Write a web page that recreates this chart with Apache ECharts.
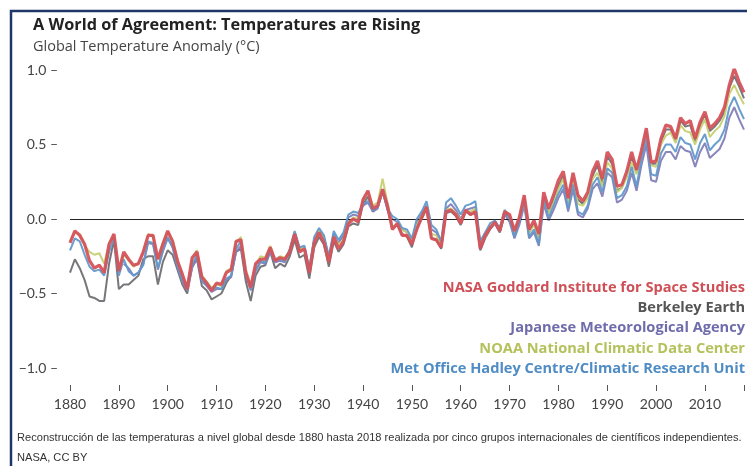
<!DOCTYPE html>
<html style="height: 100%;">
<head>
<meta charset="utf-8">
<title>A World of Agreement: Temperatures are Rising</title>
<script type="text/javascript" src="https://cdn.jsdelivr.net/npm/echarts@6/dist/echarts.min.js"></script>
</head>
<body style="height: 100%; margin: 0; background: #fff;">
<div id="container" style="width: 747px; height: 466px;"></div>
<script type="text/javascript">
var startYear = 1880;
var yTicks = [-1.0, -0.5, 0.0, 0.5, 1.0];

// anomalies, 1880 .. 2018 (one value per year)
var nasa = [
  -0.16,-0.08,-0.11,-0.17,-0.28,-0.33,-0.31,-0.36,-0.17,-0.10,
  -0.35,-0.22,-0.27,-0.31,-0.30,-0.22,-0.11,-0.11,-0.27,-0.17,
  -0.08,-0.15,-0.28,-0.37,-0.47,-0.26,-0.22,-0.39,-0.43,-0.48,
  -0.43,-0.44,-0.36,-0.34,-0.15,-0.14,-0.36,-0.46,-0.30,-0.27,
  -0.27,-0.19,-0.28,-0.26,-0.27,-0.22,-0.10,-0.22,-0.20,-0.36,
  -0.16,-0.09,-0.16,-0.29,-0.12,-0.20,-0.15,-0.03,0.00,-0.02,
  0.13,0.19,0.07,0.09,0.20,0.09,-0.07,-0.03,-0.11,-0.11,
  -0.17,-0.07,0.01,0.08,-0.13,-0.14,-0.19,0.05,0.06,0.03,
  -0.03,0.06,0.03,0.05,-0.20,-0.11,-0.06,-0.02,-0.08,0.05,
  0.03,-0.08,0.01,0.16,-0.07,-0.01,-0.10,0.18,0.07,0.16,
  0.26,0.32,0.14,0.31,0.16,0.12,0.18,0.32,0.39,0.27,
  0.45,0.40,0.22,0.23,0.32,0.45,0.33,0.46,0.61,0.38,
  0.39,0.54,0.63,0.62,0.54,0.68,0.64,0.66,0.54,0.65,
  0.72,0.61,0.64,0.68,0.75,0.90,1.01,0.92,0.85
];
var berkeley = [
  -0.36,-0.27,-0.33,-0.41,-0.52,-0.53,-0.55,-0.55,-0.30,-0.14,
  -0.47,-0.44,-0.44,-0.41,-0.38,-0.27,-0.25,-0.25,-0.44,-0.29,
  -0.21,-0.24,-0.34,-0.44,-0.50,-0.32,-0.27,-0.45,-0.48,-0.54,
  -0.52,-0.50,-0.43,-0.38,-0.22,-0.20,-0.42,-0.55,-0.38,-0.32,
  -0.31,-0.22,-0.33,-0.30,-0.32,-0.25,-0.14,-0.26,-0.24,-0.40,
  -0.19,-0.12,-0.17,-0.32,-0.15,-0.22,-0.17,-0.05,-0.03,-0.04,
  0.10,0.15,0.05,0.08,0.18,0.07,-0.06,-0.04,-0.10,-0.12,
  -0.19,-0.06,0.00,0.07,-0.13,-0.14,-0.20,0.04,0.05,0.02,
  -0.04,0.05,0.03,0.04,-0.21,-0.13,-0.07,-0.03,-0.09,0.03,
  0.02,-0.10,-0.01,0.14,-0.09,-0.03,-0.13,0.15,0.05,0.13,
  0.22,0.29,0.12,0.28,0.13,0.10,0.16,0.29,0.36,0.24,
  0.42,0.37,0.19,0.21,0.30,0.42,0.31,0.44,0.59,0.37,
  0.37,0.52,0.60,0.60,0.52,0.66,0.62,0.63,0.52,0.63,
  0.70,0.59,0.62,0.66,0.72,0.88,0.96,0.89,0.81
];
var jma = [
  null,null,null,null,null,null,null,null,null,null,
  null,-0.30,-0.33,-0.38,-0.36,-0.30,-0.16,-0.17,-0.34,-0.22,
  -0.13,-0.19,-0.32,-0.42,-0.48,-0.33,-0.26,-0.42,-0.45,-0.49,
  -0.47,-0.47,-0.41,-0.39,-0.22,-0.18,-0.38,-0.48,-0.35,-0.29,
  -0.30,-0.22,-0.29,-0.28,-0.29,-0.21,-0.10,-0.21,-0.19,-0.35,
  -0.14,-0.08,-0.12,-0.26,-0.10,-0.16,-0.11,0.01,0.03,0.02,
  0.09,0.11,0.05,0.07,0.19,0.06,0.00,-0.02,-0.07,-0.09,
  -0.15,-0.02,0.03,0.09,-0.07,-0.09,-0.17,0.07,0.10,0.06,
  0.00,0.06,0.07,0.08,-0.17,-0.11,-0.05,-0.03,-0.08,0.03,
  -0.02,-0.13,-0.04,0.09,-0.13,-0.09,-0.18,0.10,-0.01,0.06,
  0.14,0.20,0.05,0.20,0.03,0.01,0.07,0.20,0.24,0.15,
  0.31,0.28,0.11,0.13,0.19,0.31,0.19,0.36,0.50,0.26,
  0.25,0.39,0.45,0.45,0.40,0.49,0.46,0.45,0.35,0.45,
  0.51,0.41,0.44,0.47,0.54,0.68,0.75,0.67,0.60
];
var noaa = [
  -0.15,-0.09,-0.10,-0.18,-0.22,-0.24,-0.23,-0.30,-0.16,-0.11,
  -0.33,-0.24,-0.28,-0.32,-0.30,-0.23,-0.10,-0.12,-0.27,-0.16,
  -0.09,-0.14,-0.27,-0.38,-0.45,-0.28,-0.21,-0.38,-0.42,-0.46,
  -0.44,-0.45,-0.35,-0.33,-0.16,-0.12,-0.34,-0.44,-0.31,-0.25,
  -0.26,-0.18,-0.27,-0.25,-0.26,-0.21,-0.09,-0.20,-0.19,-0.33,
  -0.14,-0.08,-0.13,-0.27,-0.12,-0.17,-0.14,-0.02,0.01,0.00,
  0.12,0.18,0.09,0.11,0.27,0.11,-0.05,-0.04,-0.07,-0.09,
  -0.16,-0.04,0.02,0.07,-0.10,-0.11,-0.18,0.06,0.07,0.04,
  -0.01,0.05,0.05,0.07,-0.17,-0.12,-0.05,-0.03,-0.06,0.06,
  0.02,-0.09,0.00,0.12,-0.09,-0.04,-0.13,0.13,0.04,0.11,
  0.20,0.27,0.10,0.28,0.10,0.09,0.14,0.27,0.31,0.22,
  0.38,0.34,0.18,0.21,0.28,0.38,0.30,0.44,0.57,0.36,
  0.35,0.50,0.56,0.58,0.51,0.63,0.59,0.58,0.50,0.60,
  0.67,0.55,0.59,0.62,0.69,0.84,0.90,0.83,0.77
];
var hadley = [
  -0.21,-0.13,-0.15,-0.24,-0.32,-0.35,-0.34,-0.38,-0.22,-0.13,
  -0.38,-0.27,-0.35,-0.38,-0.36,-0.31,-0.15,-0.16,-0.33,-0.21,
  -0.12,-0.19,-0.31,-0.41,-0.46,-0.31,-0.24,-0.41,-0.44,-0.47,
  -0.46,-0.47,-0.40,-0.38,-0.20,-0.15,-0.37,-0.47,-0.34,-0.28,
  -0.29,-0.20,-0.28,-0.27,-0.28,-0.20,-0.08,-0.19,-0.18,-0.33,
  -0.12,-0.06,-0.11,-0.25,-0.08,-0.14,-0.09,0.03,0.05,0.04,
  0.10,0.12,0.06,0.08,0.20,0.07,0.02,0.00,-0.06,-0.07,
  -0.13,0.00,0.05,0.12,-0.04,-0.07,-0.15,0.11,0.14,0.09,
  0.03,0.09,0.10,0.12,-0.15,-0.09,-0.03,-0.01,-0.06,0.06,
  0.00,-0.12,-0.02,0.12,-0.12,-0.07,-0.17,0.13,0.01,0.09,
  0.17,0.23,0.07,0.23,0.05,0.03,0.09,0.23,0.28,0.18,
  0.34,0.31,0.14,0.16,0.22,0.35,0.22,0.40,0.54,0.30,
  0.29,0.44,0.50,0.50,0.45,0.55,0.51,0.50,0.40,0.51,
  0.57,0.46,0.50,0.53,0.60,0.75,0.82,0.74,0.67
];

var seriesNames = [
  'NASA Goddard Institute for Space Studies',
  'Berkeley Earth',
  'Japanese Meteorological Agency',
  'NOAA National Climatic Data Center',
  'Met Office Hadley Centre/Climatic Research Unit'
];
var lineColors = ['#d5535b', '#707074', '#8380b8', '#c6cf72', '#6299cb'];
var textColors = ['#cf4f57', '#555555', '#6f6cab', '#b6c15c', '#4f8cc4'];

function pairs(arr) {
  return arr.map(function (v, i) { return [startYear + i, v]; });
}

var dom = document.getElementById('container');
var myChart = echarts.init(dom, null, { renderer: 'canvas' });

function line(name, arr, color, width, z) {
  return {
    name: name,
    type: 'line',
    data: pairs(arr),
    showSymbol: false,
    connectNulls: false,
    z: z,
    lineStyle: { color: color, width: width, opacity: 0.95 },
    animation: false
  };
}

var series = [
  line(seriesNames[1], berkeley, lineColors[1], 2, 2),
  line(seriesNames[2], jma, lineColors[2], 2, 3),
  line(seriesNames[3], noaa, lineColors[3], 2, 4),
  line(seriesNames[4], hadley, lineColors[4], 2, 5),
  line(seriesNames[0], nasa, lineColors[0], 3.2, 6)
];
series[0].markLine = {
  silent: true,
  symbol: 'none',
  label: { show: false },
  lineStyle: { color: '#222', width: 1.2, type: 'solid' },
  data: [{ yAxis: 0 }]
};

var legendTexts = seriesNames.map(function (n, i) {
  return {
    type: 'text',
    right: 2,
    top: 280 + i * 20.4,
    style: {
      text: n,
      fill: textColors[i],
      font: 'bold 14.6px "Open Sans"',
      textAlign: 'right'
    }
  };
});

var option = {
  animation: false,
  grid: { left: 70, right: -2, top: 70, bottom: 98 },
  xAxis: {
    type: 'value',
    min: 1880,
    max: 2018,
    interval: 10,
    offset: 17,
    axisLine: { show: true, onZero: false, lineStyle: { color: 'rgba(0,0,0,0)' } },
    axisTick: { show: true, inside: false, length: 6, lineStyle: { color: '#555', width: 1 } },
    splitLine: { show: false },
    axisLabel: {
      margin: 12,
      color: '#444',
      fontSize: 14,
      fontFamily: 'Lato',
      formatter: function (v) { return v % 10 === 0 ? String(v) : ''; }
    }
  },
  yAxis: {
    type: 'value',
    min: yTicks[0],
    max: yTicks[yTicks.length - 1],
    interval: 0.5,
    axisLine: { show: false },
    axisTick: { show: false },
    splitLine: { show: false },
    axisLabel: {
      margin: 12,
      color: '#444',
      fontSize: 14,
      fontFamily: 'Lato',
      formatter: function (v) {
        var s = Math.abs(v).toFixed(1);
        return (v < 0 ? '\u2212' : '') + s + ' \u2013';
      }
    }
  },
  graphic: [
    {
      type: 'rect',
      shape: { x: 11, y: 11, width: 780, height: 500 },
      style: { fill: 'none', stroke: '#1e3768', lineWidth: 2.5 },
      silent: true
    },
    {
      type: 'text', left: 33, top: 17,
      style: { text: 'A World of Agreement: Temperatures are Rising', fill: '#222', font: 'bold 16.3px "Open Sans"' }
    },
    {
      type: 'text', left: 33, top: 39,
      style: { text: 'Global Temperature Anomaly (\u00b0C)', fill: '#444', font: '14.5px "Open Sans"' }
    },
    {
      type: 'text', left: 17, top: 432,
      style: {
        text: 'Reconstrucci\u00f3n de las temperaturas a nivel global desde 1880 hasta 2018 realizada por cinco grupos internacionales de cient\u00edficos independientes.',
        fill: '#333', font: '11.1px "Liberation Sans"'
      }
    },
    {
      type: 'text', left: 17, top: 452,
      style: { text: 'NASA, CC BY', fill: '#333', font: '11.1px "Liberation Sans"' }
    }
  ].concat(legendTexts),
  series: series
};

myChart.setOption(option);
</script>
</body>
</html>
